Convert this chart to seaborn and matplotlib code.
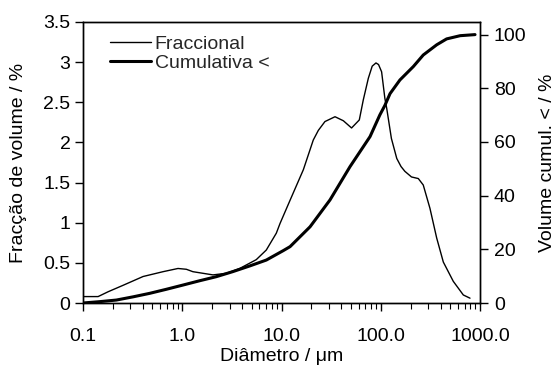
import numpy as np
import pandas as pd
import matplotlib
matplotlib.use("Agg")
import matplotlib.pyplot as plt
import seaborn as sns
from matplotlib.ticker import FixedLocator, LogLocator, NullFormatter

sns.set_theme(style="white")
plt.rcParams['font.family'] = ['Liberation Sans', 'DejaVu Sans']

# Fractional distribution (diameter um, volume %)
frac_d = [0.1, 0.142, 0.179, 0.253, 0.403, 0.64, 0.906, 1.10, 1.28, 2.04, 2.78,
          3.79, 5.57, 7.03, 8.87, 9.66, 12.2, 16.6, 20.9, 23.5, 27.4, 34.6, 42.0,
          50.8, 60.8, 66.7, 75.0, 82.0, 89.5, 95.0, 102, 110, 115, 128, 145, 160,
          175, 204, 239, 268, 313, 366, 427, 538, 679, 793]
frac_v = [0.08, 0.08, 0.14, 0.22, 0.33, 0.39, 0.43, 0.42, 0.39, 0.35, 0.37,
          0.43, 0.54, 0.66, 0.87, 0.99, 1.28, 1.66, 2.03, 2.15, 2.26, 2.32, 2.27,
          2.18, 2.28, 2.53, 2.80, 2.95, 2.99, 2.97, 2.88, 2.55, 2.42, 2.05, 1.80, 1.70,
          1.64, 1.57, 1.55, 1.47, 1.18, 0.81, 0.51, 0.27, 0.10, 0.06]

# Cumulative distribution (diameter um, cumulative volume %)
cum_d = [0.1, 0.147, 0.217, 0.32, 0.47, 0.69, 1.02, 1.5, 2.2, 3.24, 4.78, 7.03,
         10.4, 12.2, 19.4, 30.8, 49.0, 78.0, 98.0, 110, 124, 156, 213, 268, 366,
         461, 631, 891]
cum_v = [0.0, 0.5, 1.1, 2.3, 3.6, 5.1, 6.7, 8.3, 9.8, 11.7, 13.8, 16.0,
         19.5, 21.0, 28.4, 38.4, 50.8, 62.0, 70.1, 73.6, 78.0, 83.1, 88.1, 92.4, 96.2,
         98.4, 99.6, 100.0]

x_ticks = [0.1, 1, 10, 100, 1000]
x_tick_labels = ["0.1", "1.0", "10.0", "100.0", "1000.0"]
left_ticks = [0, 0.5, 1, 1.5, 2, 2.5, 3, 3.5]
left_tick_labels = ["0", "0.5", "1", "1.5", "2", "2.5", "3", "3.5"]
right_ticks = [0, 20, 40, 60, 80, 100]

df_frac = pd.DataFrame({"d": frac_d, "v": frac_v})
df_cum = pd.DataFrame({"d": cum_d, "v": cum_v})

fig = plt.figure(figsize=(5.59, 3.71), dpi=100)
ax = fig.add_axes([83/559, 1-303/371, (480-83)/559, (303-22)/371])
ax2 = ax.twinx()

sns.lineplot(data=df_frac, x="d", y="v", ax=ax, color="black", linewidth=1.0,
             label="Fraccional", legend=False)
sns.lineplot(data=df_cum, x="d", y="v", ax=ax2, color="black", linewidth=2.2,
             label="Cumulativa <", legend=False)

ax.set_xscale("log")
ax.set_xlim(0.1, 1000)
ax.set_ylim(0, 3.5)
ax2.set_ylim(0, 104.7)

ax.xaxis.set_major_locator(FixedLocator(x_ticks))
ax.set_xticklabels(x_tick_labels)
ax.xaxis.set_minor_locator(LogLocator(base=10, subs=np.arange(2, 10), numticks=20))
ax.xaxis.set_minor_formatter(NullFormatter())
ax.set_yticks(left_ticks)
ax.set_yticklabels(left_tick_labels)
ax2.set_yticks(right_ticks)

for a in (ax, ax2):
    for s in a.spines.values():
        s.set_color("black")
        s.set_linewidth(1.0)
    a.grid(False)

ax.tick_params(axis="x", which="major", direction="out", length=6, width=1,
               colors="black", labelsize=14, pad=12, bottom=True)
ax.tick_params(axis="x", which="minor", direction="out", length=4, width=0.8,
               colors="black", bottom=True)
ax.tick_params(axis="y", direction="out", length=6, width=1, colors="black",
               labelsize=14, left=True, pad=3)
ax2.tick_params(axis="y", direction="out", length=6, width=1, colors="black",
                labelsize=14, right=True, pad=4)

ax.set_xlabel("Diâmetro / μm", fontsize=14, color="black", labelpad=2)
ax.set_ylabel("Fracção de volume / %", fontsize=14, color="black", labelpad=12)
ax2.set_ylabel("Volume cumul. < / %", fontsize=14, color="black", labelpad=9)

h1, l1 = ax.get_legend_handles_labels()
h2, l2 = ax2.get_legend_handles_labels()
ax.legend(h1 + h2, l1 + l2, loc="upper left", frameon=False, fontsize=14,
          handlelength=2.1, handletextpad=0.2, labelspacing=0.05, borderpad=0,
          bbox_to_anchor=(0.068, 0.952), borderaxespad=0)

fig.savefig("out.png", dpi=100)
